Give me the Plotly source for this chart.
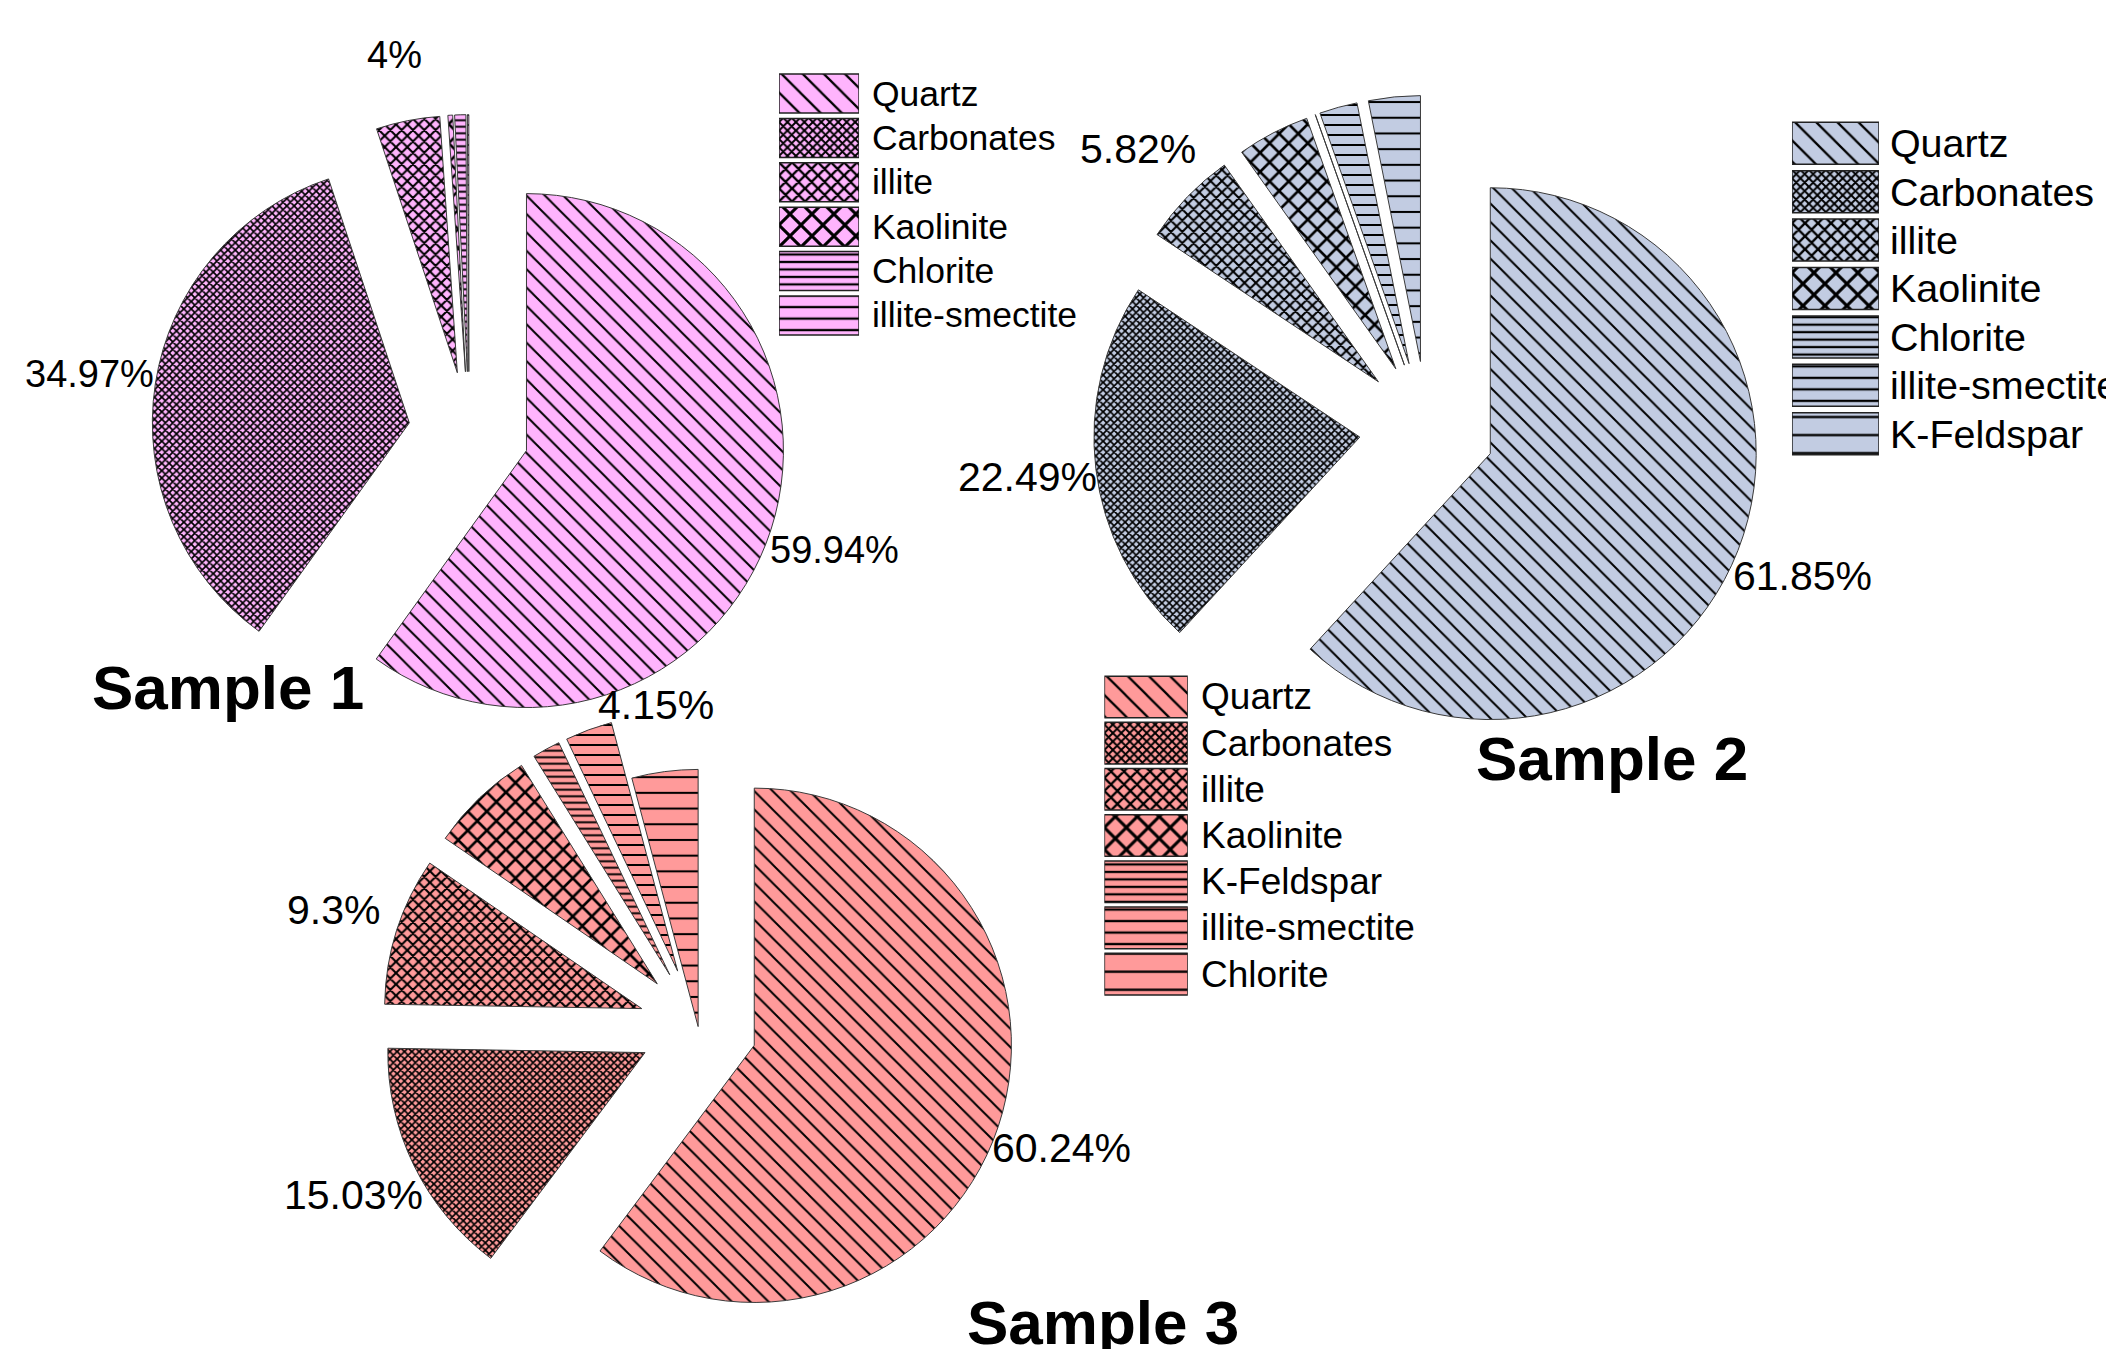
import math
import plotly.graph_objects as go

# ---- mineral composition of the three samples (percent) ----
minerals_1 = ["Quartz", "Carbonates", "illite", "Kaolinite", "Chlorite", "illite-smectite"]
values_1 = [59.94, 34.97, 4, 0.3, 0.7, 0.09]
labelled_1 = [True, True, True, False, False, False]

minerals_2 = ["Quartz", "Carbonates", "illite", "Kaolinite", "Chlorite", "illite-smectite", "K-Feldspar"]
values_2 = [61.85, 22.49, 5.82, 4.4, 0, 2.3, 3.14]
labelled_2 = [True, True, True, False, False, False, False]

minerals_3 = ["Quartz", "Carbonates", "illite", "Kaolinite", "K-Feldspar", "illite-smectite", "Chlorite"]
values_3 = [60.24, 15.03, 9.3, 6.58, 1.75, 2.95, 4.15]
labelled_3 = [True, True, True, False, False, False, True]

sample_titles = ["Sample 1", "Sample 2", "Sample 3"]

# ---- styling ----
W, H = 2106, 1349
FONT = "Liberation Sans, Arial, sans-serif"
COLORS = ["#FFB4FD", "#C2CCE2", "#FF9A9A"]
# hatch per slice position: (shape, size, solidity)
HATCH = [("\\", 13, 0.15), ("x", 5.2, 0.55), ("x", 8, 0.45), ("x", 13.5, 0.35),
         ("-", 6.5, 0.3), ("-", 10, 0.2), ("-", 15.7, 0.13)]
NBSP = "\u00a0"
THIN = "\u2009"
LABEL_DIST = 1.26  # percent labels sit this many radii out from each slice's tip


def hatch(n, color, scale=1.0):
    return dict(
        shape=[HATCH[i][0] for i in range(n)],
        size=[HATCH[i][1] * scale for i in range(n)],
        solidity=[HATCH[i][2] for i in range(n)],
        fgcolor="black",
        bgcolor=color,
        fillmode="replace",
    )


fig = go.Figure()

pies = [
    dict(labels=minerals_1, values=values_1, lab=labelled_1, color=COLORS[0],
         pull=[0.235] * 6, dx=[0.0720, 0.3734], dy=[0.4445, 0.9150], fs=38),
    dict(labels=minerals_2, values=values_2, lab=labelled_2, color=COLORS[1],
         pull=[0.255] * 7, dx=[0.5192, 0.8361], dy=[0.4346, 0.9294], fs=41),
    dict(labels=minerals_3, values=values_3, lab=labelled_3, color=COLORS[2],
         pull=[0.23] * 6 + [0], dx=[0.1813, 0.4817], dy=[0.0, 0.478], fs=41),
]

for p in pies:
    n = len(p["labels"])
    fig.add_trace(go.Pie(
        labels=p["labels"], values=p["values"],
        sort=False, direction="clockwise", rotation=0,
        pull=p["pull"],
        domain=dict(x=p["dx"], y=p["dy"]),
        automargin=False,
        marker=dict(colors=[p["color"]] * n,
                    line=dict(color="#3a3a3a", width=1),
                    pattern=hatch(n, p["color"])),
        textinfo="none",
        showlegend=False, hoverinfo="label+percent",
    ))

    # percent labels, placed along each slice's bisector beyond its outer edge
    pw = (p["dx"][1] - p["dx"][0]) * W
    ph = (p["dy"][1] - p["dy"][0]) * H
    r = min(pw, ph) / (2 + 2 * max(p["pull"]))
    cx = (p["dx"][0] + p["dx"][1]) / 2 * W
    cy = (1 - (p["dy"][0] + p["dy"][1]) / 2) * H
    total = sum(p["values"])
    cum = 0.0
    for v, pl, shown in zip(p["values"], p["pull"], p["lab"]):
        theta = 2 * math.pi * (cum + v / 2) / total
        cum += v
        if not shown:
            continue
        ux, uy = math.sin(theta), -math.cos(theta)
        lx = cx + (pl + LABEL_DIST) * r * ux
        ly = cy + (pl + LABEL_DIST) * r * uy
        fig.add_annotation(text=f"{v:g}%", x=lx / W, y=1 - ly / H,
                           xref="paper", yref="paper", showarrow=False,
                           xanchor="center", yanchor="middle",
                           font=dict(family=FONT, size=p["fs"], color="black"))

# ---- swatch keys drawn as patterned horizontal bars ----
keys = [
    dict(names=minerals_1, color=COLORS[0], ax="", dx=[0.3699, 0.4079], dy=[0.7497, 0.9471],
         w=0.878, fs=35.5, pad=NBSP),
    dict(names=minerals_2, color=COLORS[1], ax="2", dx=[0.8509, 0.8922], dy=[0.6606, 0.9117],
         w=0.868, fs=39.5, pad=THIN),
    dict(names=minerals_3, color=COLORS[2], ax="3", dx=[0.5244, 0.5640], dy=[0.2608, 0.5005],
         w=0.9, fs=37, pad=NBSP),
]

layout_axes = {}
for k in keys:
    n = len(k["names"])
    swatch_len = [1] * n
    fig.add_trace(go.Bar(
        x=swatch_len, y=k["names"], orientation="h", width=k["w"],
        marker=dict(color=k["color"], line=dict(color="#222", width=1.5),
                    pattern=hatch(n, k["color"], 1.15)),
        texttemplate=k["pad"] + "%{y}", textposition="outside",
        textfont=dict(family=FONT, size=k["fs"], color="black"),
        cliponaxis=False, constraintext="none", hoverinfo="skip",
        xaxis="x" + k["ax"], yaxis="y" + k["ax"], showlegend=False,
    ))
    layout_axes["xaxis" + k["ax"]] = dict(domain=k["dx"], range=[0, 1], visible=False,
                                          anchor="y" + k["ax"], fixedrange=True)
    layout_axes["yaxis" + k["ax"]] = dict(domain=k["dy"], type="category",
                                          categoryorder="array", categoryarray=k["names"],
                                          range=[n - 0.5, -0.5], visible=False,
                                          anchor="x" + k["ax"], fixedrange=True)

fig.update_layout(
    width=W, height=H,
    margin=dict(l=0, r=0, t=0, b=0, autoexpand=False),
    paper_bgcolor="white", plot_bgcolor="white",
    showlegend=False,
    font=dict(family=FONT, color="black"),
    **layout_axes,
)

# sample titles
title_pos = [(0.1083, 0.4900), (0.7654, 0.4374), (0.5237, 0.0193)]
for t, (x, y) in zip(sample_titles, title_pos):
    fig.add_annotation(text="<b>" + t + "</b>", x=x, y=y, xref="paper", yref="paper",
                       showarrow=False, xanchor="center", yanchor="middle",
                       font=dict(family=FONT, size=62, color="black"))

fig.write_html("out.html")
